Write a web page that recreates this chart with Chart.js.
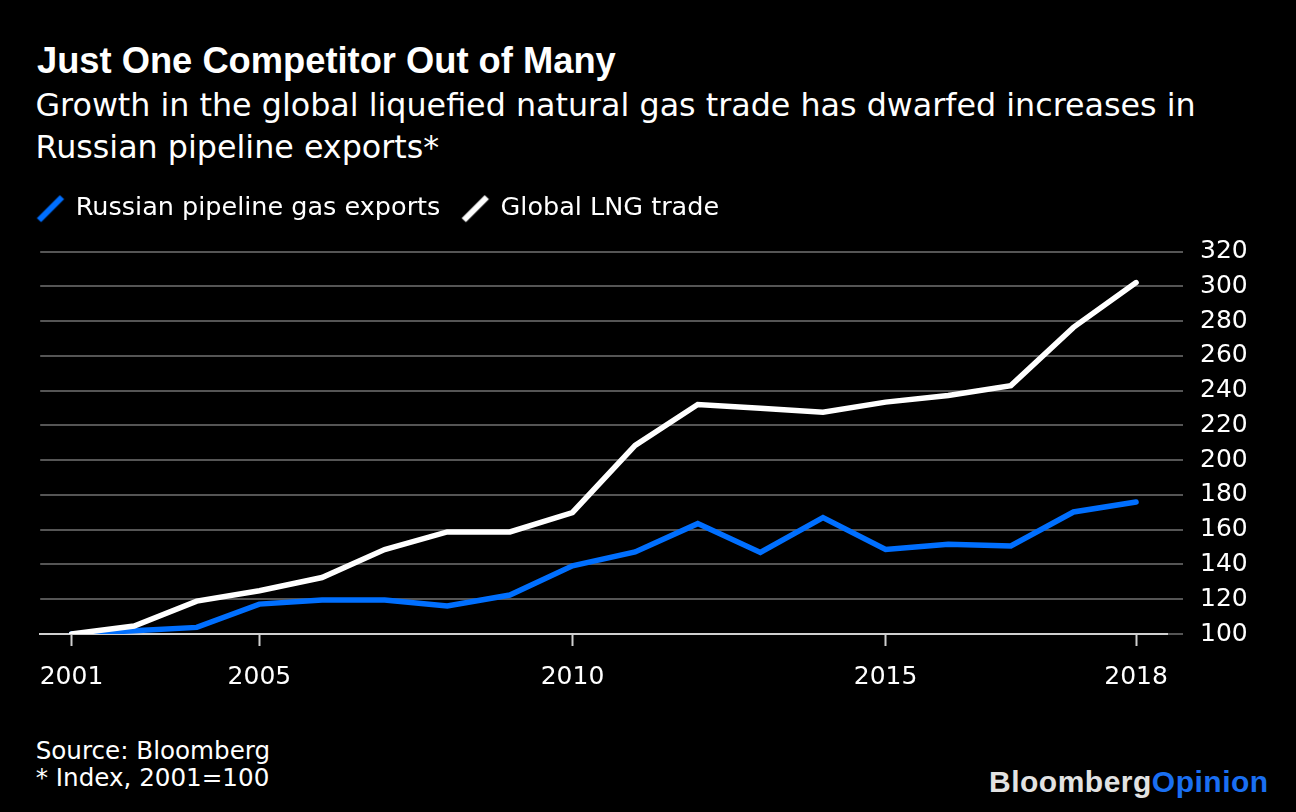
<!DOCTYPE html>
<html>
<head>
<meta charset="utf-8">
<script src="https://cdn.jsdelivr.net/npm/chart.js@4.4.1/dist/chart.umd.min.js"></script>
<style>
  html, body { margin: 0; padding: 0; background: #000; }
  body { width: 1296px; height: 812px; position: relative; overflow: hidden; }
  .t { position: absolute; white-space: nowrap; color: #fff; margin: 0; }
  #title { left: 37px; top: 43px; font: bold 36.3px "Liberation Sans", Arial, sans-serif; line-height: 36px; }
  #subtitle { left: 35.5px; top: 84px; font: 31.75px "DejaVu Sans", sans-serif; line-height: 42.3px; }
  #footer { left: 35.7px; top: 737px; font: 24.6px "DejaVu Sans", sans-serif; line-height: 27.4px; }
  #logo { left: 989px; top: 767px; font: bold 30px "Liberation Sans", Arial, sans-serif; line-height: 30px; letter-spacing: 0.5px; }
  #chartBox { position: absolute; left: 0; top: 173px; width: 1296px; height: 521px; }
</style>
</head>
<body>
<div id="title" class="t">Just One Competitor Out of Many</div>
<div id="subtitle" class="t">Growth in the global liquefied natural gas trade has dwarfed increases in<br>Russian pipeline exports*</div>
<div id="chartBox"><canvas id="c"></canvas></div>
<div id="footer" class="t">Source: Bloomberg<br>* Index, 2001=100</div>
<div id="logo" class="t"><span style="color:#e2e2e2">Bloomberg</span><span style="color:#1a6ff2">Opinion</span></div>

<script>
// ---- Data (index 2001 = 100) ----
const categories = ['2001','2002','2003','2004','2005','2006','2007','2008','2009',
                    '2010','2011','2012','2013','2014','2015','2016','2017','2018'];
// axis labels exactly as printed under the reference's tick marks
const tickLabels = ['2001','','','2005','','','','','2010','','','','','2015','','','','2018'];
const russianPipeline = [100, 101.9, 103.8, 117.2, 119.5, 119.5, 116.1, 122.4, 139.2,
                         147.2, 163.5, 146.9, 167.0, 148.6, 151.7, 150.7, 170.2, 175.9];
const lngTrade = [100, 104.6, 118.9, 124.9, 132.5, 148.6, 158.7, 158.7, 169.9,
                  208.5, 232.0, 229.9, 227.6, 233.4, 237.2, 242.9, 276.4, 302.2];
const seriesNames = ['Russian pipeline gas exports', 'Global LNG trade'];
const yTicks = { min: 100, max: 320, step: 20 };

const BLUE = '#006fff';
const WHITE = '#ffffff';

function makeMarker(color) {
  const c = document.createElement('canvas');
  c.width = 30; c.height = 30;
  const g = c.getContext('2d');
  g.strokeStyle = color;
  g.lineWidth = 6;
  g.lineCap = 'butt';
  g.beginPath();
  g.moveTo(3.5, 27);
  g.lineTo(26.5, 4);
  g.stroke();
  return c;
}

const ctx = document.getElementById('c');
new Chart(ctx, {
  type: 'line',
  data: {
    labels: categories,
    datasets: [
      {
        label: seriesNames[0],
        data: russianPipeline,
        borderColor: BLUE,
        backgroundColor: BLUE,
        borderWidth: 5.5,
        pointRadius: 0,
        pointHoverRadius: 0,
        pointStyle: makeMarker(BLUE),
        borderCapStyle: 'round',
        tension: 0,
        order: 1
      },
      {
        label: seriesNames[1],
        data: lngTrade,
        borderColor: WHITE,
        backgroundColor: WHITE,
        borderWidth: 5.5,
        pointRadius: 0,
        pointHoverRadius: 0,
        pointStyle: makeMarker(WHITE),
        borderCapStyle: 'round',
        tension: 0,
        order: 0
      }
    ]
  },
  options: {
    responsive: true,
    maintainAspectRatio: false,
    animation: false,
    events: [],
    layout: { padding: { left: 15.6, top: 0, right: 0, bottom: 0 } },
    plugins: {
      title: { display: false },
      tooltip: { enabled: false },
      legend: {
        display: true,
        position: 'top',
        align: 'start',
        labels: {
          usePointStyle: true,
          pointStyleWidth: 25,
          padding: 22.4,
          color: '#ffffff',
          font: { family: 'DejaVu Sans', size: 25.5 },
          sort: (a, b) => a.datasetIndex - b.datasetIndex
        }
      }
    },
    scales: {
      x: {
        type: 'category',
        offset: true,
        grid: {
          display: true,
          drawOnChartArea: false,
          drawTicks: true,
          tickLength: 12,
          tickWidth: 2,
          offset: false,
          tickColor: (c) => (tickLabels[c.index] ? '#cfcfcf' : 'rgba(0,0,0,0)')
        },
        border: { display: true, color: '#cfcfcf', width: 2 },
        ticks: {
          autoSkip: false,
          maxRotation: 0,
          minRotation: 0,
          padding: 16,
          color: '#ffffff',
          font: { family: 'DejaVu Sans', size: 25 },
          callback: (v, i) => tickLabels[i]
        },
        afterFit: (s) => { s.height = 60; }
      },
      y: {
        type: 'linear',
        position: 'right',
        min: yTicks.min,
        max: yTicks.max,
        grid: {
          display: true,
          drawOnChartArea: true,
          drawTicks: true,
          tickLength: 15.6,
          lineWidth: 2,
          color: (c) => (c.tick && c.tick.value === yTicks.min ? 'rgba(0,0,0,0)' : '#555555'),
          tickColor: '#555555'
        },
        border: { display: false },
        ticks: {
          stepSize: yTicks.step,
          padding: 17,
          color: '#ffffff',
          font: { family: 'DejaVu Sans', size: 25 }
        },
        afterFit: (s) => { s.width = 128.6; }
      },
      spacerLeft: {
        type: 'linear',
        position: 'left',
        display: true,
        grid: { display: false },
        border: { display: false },
        ticks: { display: false },
        afterFit: (s) => { s.width = 24.6; }
      },
      spacerTop: {
        type: 'linear',
        position: 'top',
        display: true,
        grid: { display: false },
        border: { display: false },
        ticks: { display: false },
        afterFit: (s) => { s.height = 20.7; }
      }
    }
  }
});
</script>
</body>
</html>
